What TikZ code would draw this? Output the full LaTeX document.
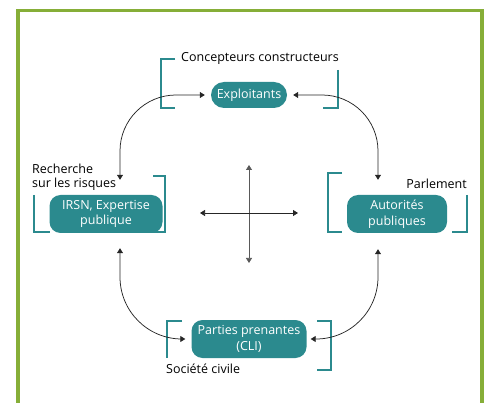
\documentclass[tikz,border=0pt]{standalone}
\usepackage{fontspec}
\setmainfont{Open Sans}
\usepackage{tikz}
\usepackage{xcolor}
\usetikzlibrary{arrows.meta}
\definecolor{teal-box}{HTML}{2B8A8E}
\definecolor{frame-green}{HTML}{86AE38}
\tikzset{
    actor-box/.style = {fill=teal-box, text=white, rectangle, rounded corners=11pt, align=center, font=\fontsize{12.5}{15.5}\selectfont, inner sep=2pt},
    actor-bracket/.style = {draw=teal-box, line width=2.8pt},
    actor-label/.style = {font=\fontsize{12.5}{14}\selectfont, inner sep=0pt},
    link-arrow/.style = {draw=black!85, line width=0.75pt, {Triangle[length=5pt,width=6pt]}-{Triangle[length=5pt,width=6pt]}},
}

\begin{document}
\begin{tikzpicture}[x=1pt,y=-1pt]
\useasboundingbox (0,0) rectangle (487,403);
\clip (0,0) rectangle (487,403);
\draw[frame-green, line width=3.6pt] (18,10.5) rectangle (482,430);

% acteurs
\node [actor-box, minimum width=76pt, minimum height=26pt, rounded corners=13pt] (expl) at (249,95) {Exploitants};
\node [actor-box, minimum width=113pt, minimum height=38pt] (irsn) at (106,214) {IRSN, Expertise\\publique};
\node [actor-box, minimum width=100pt, minimum height=38pt] (auto) at (397,214) {Autorités\\publiques};
\node [actor-box, minimum width=115pt, minimum height=38pt] (parties) at (249,339) {Parties prenantes\\(CLI)};

% etiquettes
\node [actor-label, anchor=west] (concept) at (181,58) {Concepteurs constructeurs};
\node [actor-label, anchor=west, align=left] (recherche) at (32,177) {Recherche\\sur les risques};
\node [actor-label, anchor=east] (parlement) at (467,184) {Parlement};
\node [actor-label, anchor=west] (societe) at (166,369) {Société civile};

% crochets
\draw [actor-bracket] (175,59) -- (161,59) -- (161,108) -- (175,108);
\draw [actor-bracket] (338,70) -- (338,108) -- (323,108);
\draw [actor-bracket] (34,195) -- (34,232) -- (50,232);
\draw [actor-bracket] (153,176) -- (165,176) -- (165,232) -- (152,232);
\draw [actor-bracket] (342,173) -- (328,173) -- (328,232) -- (342,232);
\draw [actor-bracket] (467,195) -- (467,232) -- (452,232);
\draw [actor-bracket] (182,321) -- (167,321) -- (167,358);
\draw [actor-bracket] (317,321) -- (331,321) -- (331,370) -- (317,370);

% liens
\draw [link-arrow, rounded corners=56pt, shorten <=15pt, shorten >=6pt] ([xshift=14pt]irsn.north) |- (expl.west);
\draw [link-arrow, rounded corners=56pt, shorten <=6pt, shorten >=15pt] (expl.east) -| ([xshift=-19pt]auto.north);
\draw [link-arrow, rounded corners=62pt, shorten <=15pt, shorten >=6pt] ([xshift=14pt]irsn.south) |- (parties.west);
\draw [link-arrow, rounded corners=62pt, shorten <=4pt, shorten >=16pt] (parties.east) -| ([xshift=-19pt]auto.south);

% croix centrale
\coordinate (hub) at (249,213);
\coordinate (hub-n) at (249,165);
\coordinate (hub-s) at (249,263);
\coordinate (hub-w) at (200,213);
\coordinate (hub-e) at (298,213);
\draw [link-arrow, draw=black!65] (hub-n) -- (hub-s);
\draw [link-arrow] (hub-w) -- (hub-e);
\end{tikzpicture}
\end{document}
